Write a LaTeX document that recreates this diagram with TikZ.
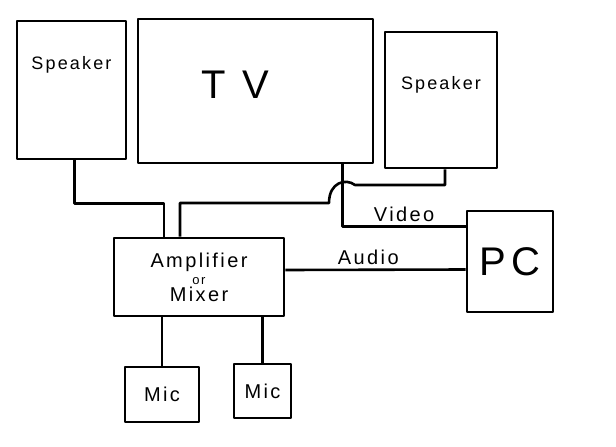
\documentclass[tikz,border=0pt]{standalone}
\usepackage{fontspec}
\setmainfont{Liberation Sans}[LetterSpace=12]

\begin{document}
\begin{tikzpicture}[x=1pt,y=-1pt,line width=2.6pt,line join=round]
		\tikzstyle{unit}=[draw,shape=rectangle,inner sep=0pt]
		\tikzstyle{hand}=[font=\fontsize{20}{20}\selectfont]
		\tikzstyle{big}=[font=\fontsize{40}{40}\selectfont]
		\useasboundingbox (0,0) rectangle (616,447);

		\node[unit,minimum width=109pt,minimum height=138pt,
			label={[hand,font=\fontsize{18}{18}\selectfont,below=32pt]north:Speaker}](spkL) at (71.5,90){};
		\node[unit,minimum width=235pt,minimum height=144pt,
			label={[big,below=49pt,xshift=-20pt]north:T\hspace{16pt}V}](tv) at (255.5,91){};
		\node[unit,minimum width=112pt,minimum height=136pt,
			label={[hand,font=\fontsize{18}{18}\selectfont,below=41pt]north:Speaker}](spkR) at (441,100){};
%
		\node[unit,hand,align=center,minimum width=170pt,minimum height=78pt](amp) at (199,277)
			{Amplifier\\[-3pt]{\fontsize{13}{13}\selectfont or}\\[-3pt]Mixer};
		\node[unit,big,minimum width=86pt,minimum height=101pt](pc) at (510,261.5){PC};
%
		\node[unit,hand,minimum width=74pt,minimum height=55pt](mic1) at (162,394.5){Mic};
		\node[unit,hand,minimum width=57pt,minimum height=54pt](mic2) at (262.5,391){Mic};

		\coordinate (hopA) at (329,203);
		\coordinate (hopB) at (355,185);

		\draw ([xshift=3pt]spkL.south) -- ++(0,43) -| ([xshift=-35pt]amp.north);
		\draw ([xshift=-19pt]amp.north) |- (hopA) .. controls (329,182) and (346,178) .. (hopB) -| ([xshift=4pt]spkR.south);
		\draw ([xshift=87pt]tv.south) |- ([yshift=35pt]pc.west) node[hand,above,pos=0.75]{Video};
		\draw ([yshift=7pt]amp.east) -- ([yshift=-8pt]pc.west) node[hand,above,pos=0.46]{Audio};
		\draw (mic1.north) -- (mic1.north |- amp.south);
		\draw (mic2.north) -- (mic2.north |- amp.south);
	\end{tikzpicture}
\end{document}
